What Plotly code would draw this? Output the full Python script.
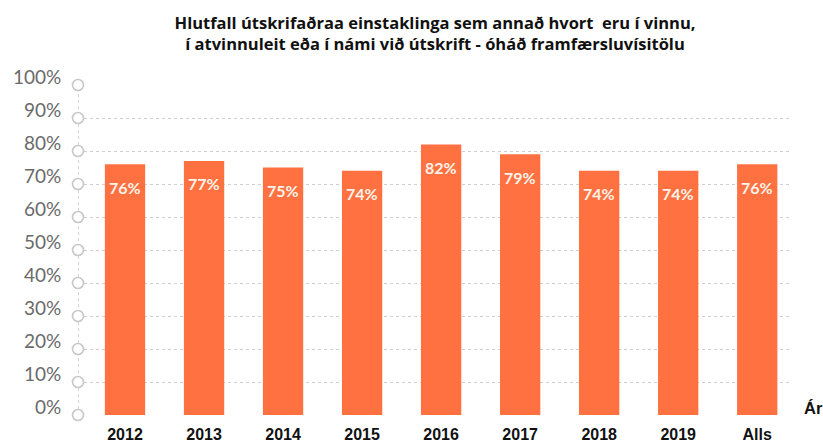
import plotly.graph_objects as go

categories = ["2012", "2013", "2014", "2015", "2016", "2017", "2018", "2019", "Alls"]
values = [76, 77, 75, 74, 82, 79, 74, 74, 76]
value_labels = ["76%", "77%", "75%", "74%", "82%", "79%", "74%", "74%", "76%"]
y_ticks = [0, 10, 20, 30, 40, 50, 60, 70, 80, 90, 100]
y_tick_labels = [f"{v}%" for v in y_ticks]

xpos = list(range(len(categories)))
x_range = [-0.595, 8.44]
bar_color = "#FF7140"

fig = go.Figure()
fig.add_trace(go.Bar(
    x=xpos, y=values, marker=dict(color=bar_color, line=dict(width=0)),
    width=0.51, hoverinfo="skip", showlegend=False,
))
# dotted y-axis line with circle markers at each gridline
fig.add_trace(go.Scatter(
    x=[x_range[0]] * len(y_ticks), y=y_ticks, mode="lines+markers",
    line=dict(color="#c8c8c8", width=1.5, dash="dot"),
    marker=dict(symbol="circle", size=11, color="white",
                line=dict(color="#c8c8c8", width=1.6)),
    cliponaxis=False, showlegend=False, hoverinfo="skip",
))

for x, v, t in zip(xpos, values, value_labels):
    fig.add_annotation(x=x, y=v, text=f"<b>{t}</b>", showarrow=False, yshift=-23,
                       font=dict(family="Lato", size=16, color="#fff3ea"))

for v, t in zip(y_ticks, y_tick_labels):
    fig.add_annotation(xref="paper", yref="y", x=0, y=v, text=t, showarrow=False,
                       xanchor="right", xshift=-15, yshift=9,
                       font=dict(family="Lato", size=19, color="#6a6a6a"))

fig.add_annotation(xref="paper", yref="y", x=1.0, y=0, xanchor="left",
                   xshift=10, yshift=7, text="<b>Ár</b>", showarrow=False,
                   font=dict(family="Liberation Sans", size=16.5, color="#111"))

fig.update_layout(
    width=823, height=443,
    margin=dict(l=78, r=31, t=85, b=28),
    paper_bgcolor="white", plot_bgcolor="white",
    title=dict(
        text="<b>Hlutfall útskrifaðraa einstaklinga sem annað hvort  eru í vinnu,<br>í atvinnuleit eða í námi við útskrift - óháð framfærsluvísitölu</b>",
        x=0.5, xanchor="center", xref="paper", y=1 - 28.5 / 443, yanchor="middle",
        font=dict(family="Open Sans", size=16.5, color="#111"),
    ),
    xaxis=dict(
        range=x_range, tickmode="array", tickvals=xpos, ticktext=categories,
        showgrid=False, zeroline=False, showline=False, ticks="",
        automargin=False, ticklabelstandoff=8,
        tickfont=dict(family="Liberation Sans", size=16, color="#111", weight="bold"),
    ),
    yaxis=dict(
        range=[0, 100], tickmode="array", tickvals=y_ticks,
        showticklabels=False, automargin=False,
        showgrid=True, gridcolor="#cfcfcf", griddash="dot", gridwidth=1,
        zeroline=False, showline=False, ticks="",
    ),
)

fig.write_html(
    "out.html",
    config={"displayModeBar": False},
    post_script="document.body.style.margin='0';document.body.style.overflow='hidden';",
)
